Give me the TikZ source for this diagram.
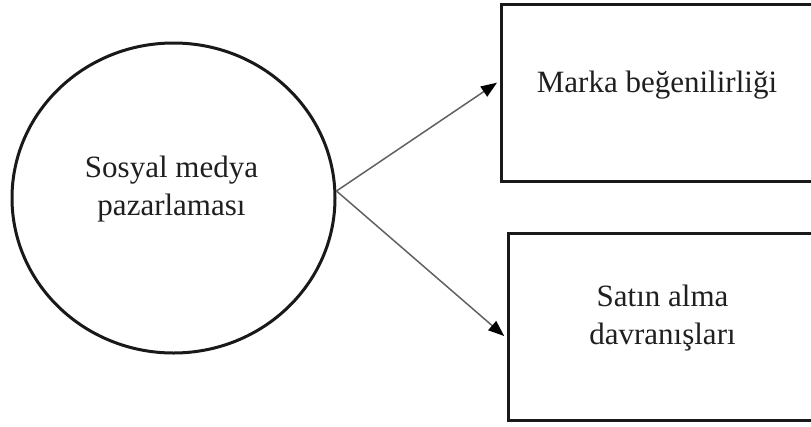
\documentclass[tikz,border=0pt]{standalone}
\usepackage{fontspec}
\setmainfont{Liberation Serif}
\usetikzlibrary{arrows.meta,shapes.geometric,calc}
\begin{document}
\begin{tikzpicture}[x=1pt,y=-1pt,
  txt/.style={font=\fontsize{31}{38}\selectfont, text=black!88, align=center, inner sep=0pt},
  boxnode/.style={draw=black!90, line width=3pt, rectangle, inner sep=0pt},
  arr/.style={draw=black!62, line width=1.5pt, -{Triangle[length=16pt,width=12pt,fill=black,color=black]}, shorten >=3pt}]
\useasboundingbox (0,0) rectangle (811,426);
\clip (0,0) rectangle (811,426);
\node[draw=black!90, line width=3pt, ellipse, minimum width=323pt, minimum height=310pt, inner sep=0pt] (circ) at (173.5,198) {};
\node[boxnode, minimum width=314pt, minimum height=177pt] (b1) at (658,92.5) {};
\node[boxnode, minimum width=314pt, minimum height=187pt] (b2) at (665,326.5) {};
\node[txt] (t0) at (171.5,189) {Sosyal medya\\pazarlaması};
\node[txt, anchor=base] (t1) at (657,92) {Marka beğenilirliği};
\node[txt] (t2) at (662.5,318.5) {Satın alma\\davranışları};
\coordinate (s) at ($(circ.east)+(0,-7)$);
\draw[arr] (s) -- ($(b1.west)+(0,-11.5)$);
\draw[arr] (s) -- ($(b2.west)+(0,11.5)$);
\end{tikzpicture}
\end{document}
